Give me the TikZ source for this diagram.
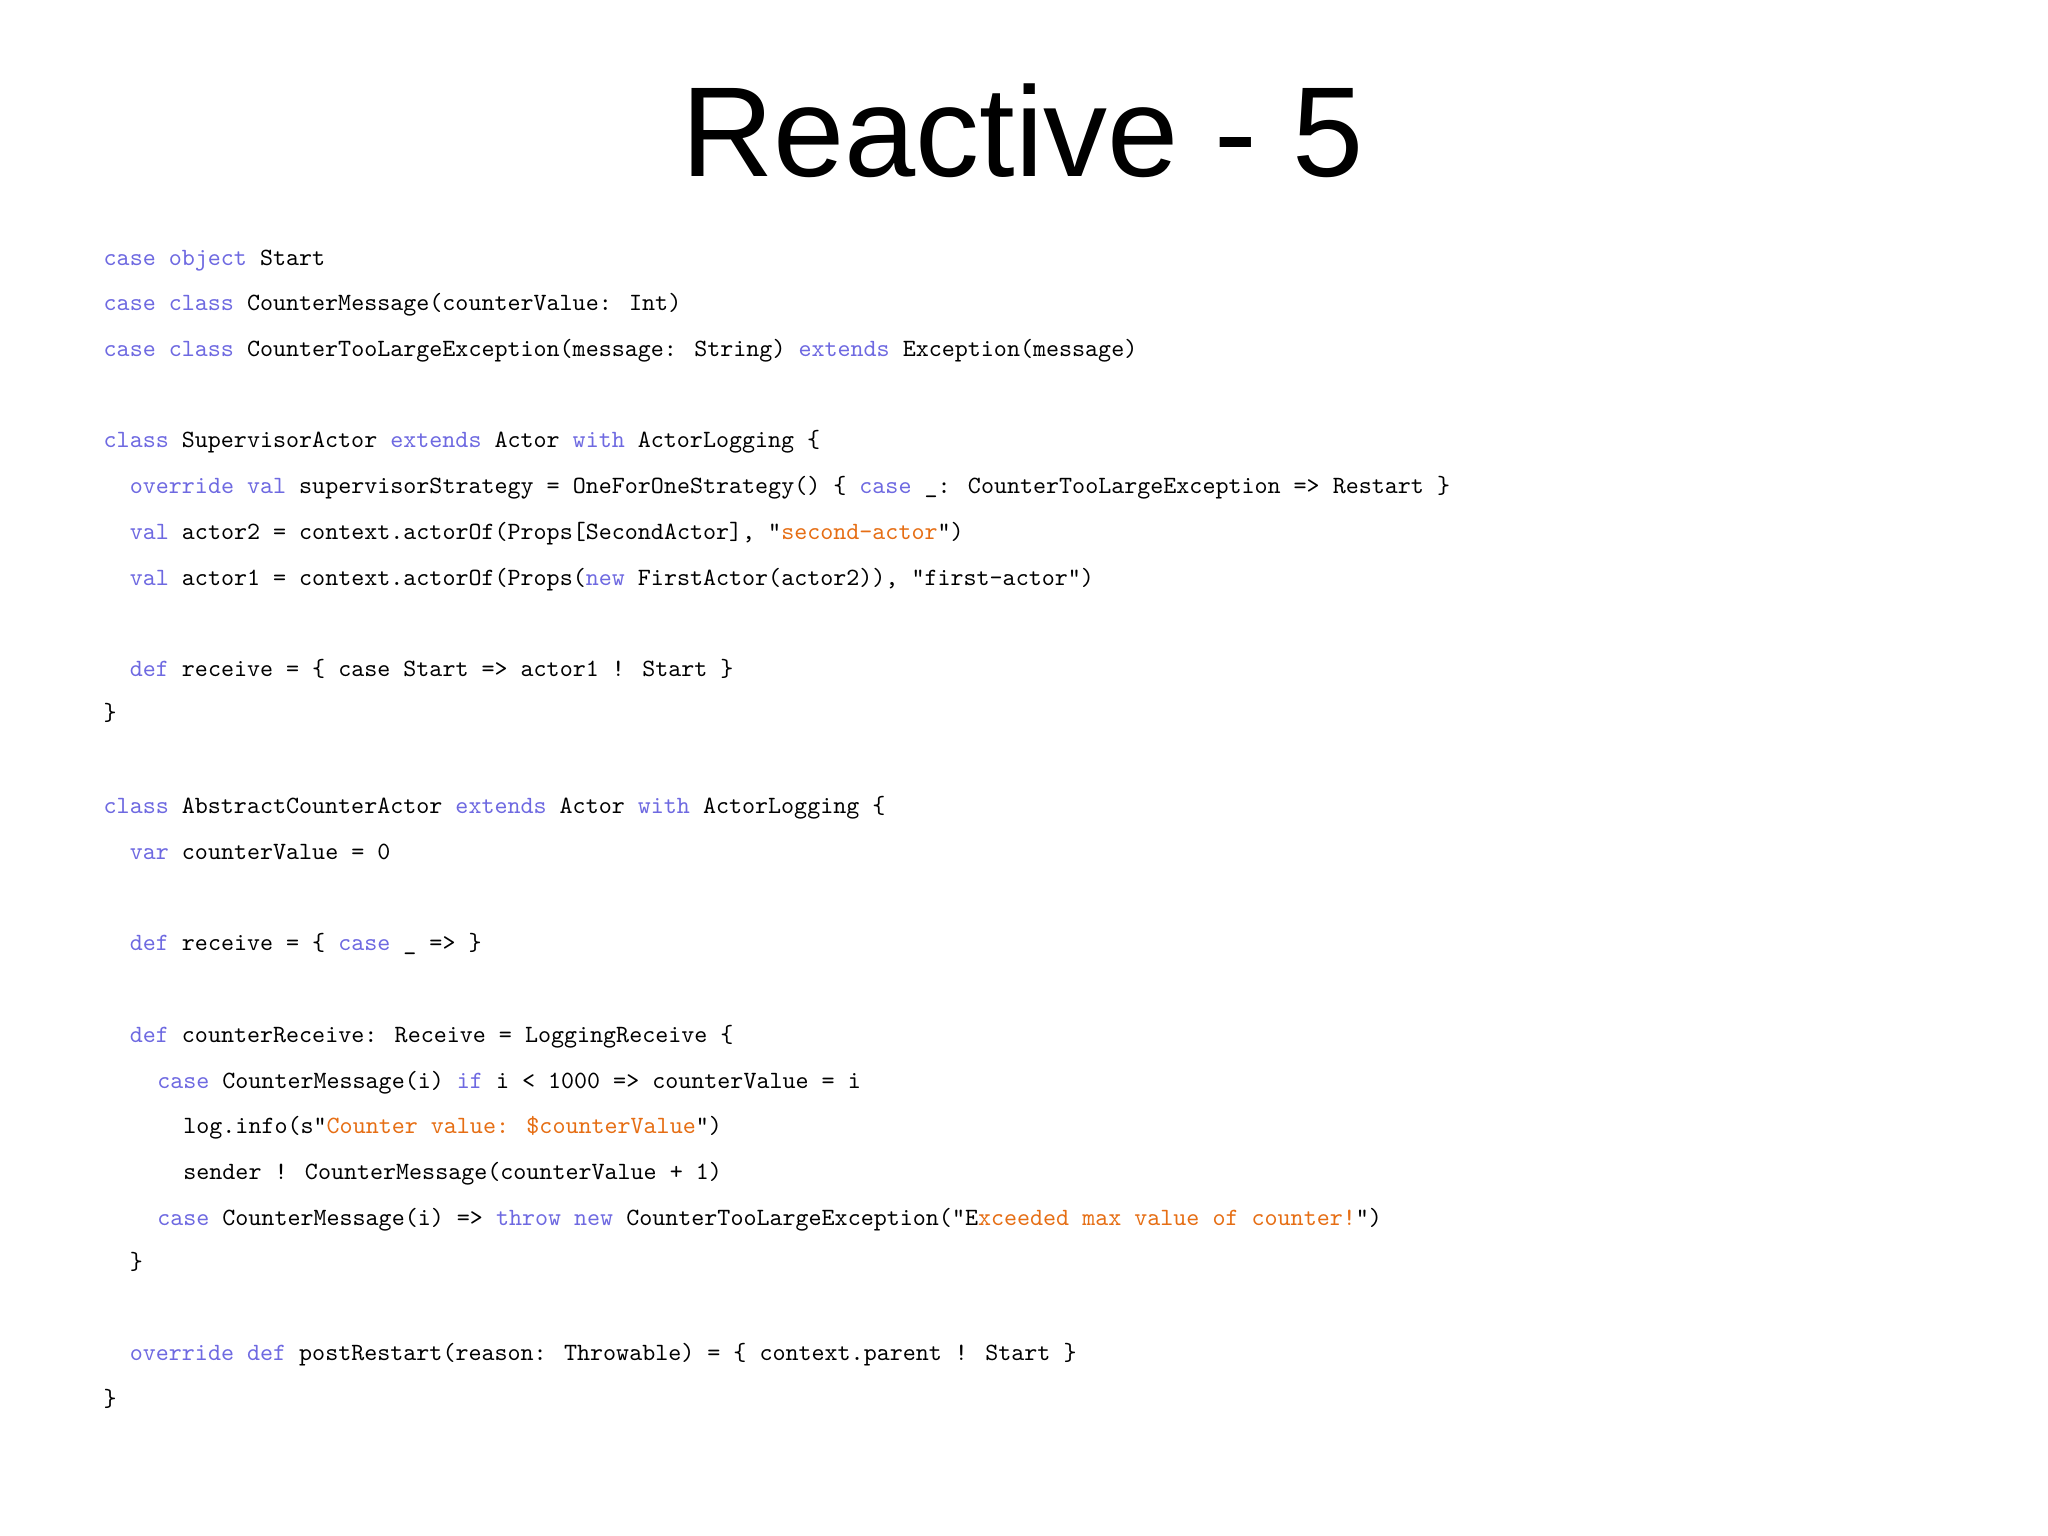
\documentclass[tikz,border=0pt]{standalone}
\usepackage{fontspec}
\newfontfamily\titlefont{Liberation Sans}
\definecolor{kwc}{RGB}{110,105,225}
\definecolor{stc}{RGB}{230,110,20}
\newcommand{\kw}[1]{\textcolor{kwc}{#1}}
\newcommand{\st}[1]{\textcolor{stc}{#1}}
\begin{document}
\begin{tikzpicture}[x=0.5pt,y=-0.5pt,
  codeline/.style={anchor=base west,inner sep=0pt,font=\fontsize{9.5pt}{10pt}\ttfamily}]
\useasboundingbox[fill=white] (0,0) rectangle (1568,1176);
\node[anchor=base,inner sep=0pt,font=\titlefont\fontsize{49pt}{50pt}\selectfont] (title) at (783,135) {Reactive - 5};
\def\L#1#2#3#4{\node[codeline] (#1) at (#2,#3+5) {#4};}
\L{l1}{79}{198}{\kw{case object} Start}
\L{l2}{79}{233}{\kw{case class} CounterMessage(counterValue: Int)}
\L{l3}{79}{268}{\kw{case class} CounterTooLargeException(message: String) \kw{extends} Exception(message)}
\L{l4}{79}{338}{\kw{class} SupervisorActor \kw{extends} Actor \kw{with} ActorLogging \{}
\L{l5}{99}{373}{\kw{override val} supervisorStrategy = OneForOneStrategy() \{ \kw{case} \_: CounterTooLargeException => Restart \}}
\L{l6}{99}{408}{\kw{val} actor2 = context.actorOf(Props[SecondActor], "\st{second-actor}")}
\L{l7}{99}{443}{\kw{val} actor1 = context.actorOf(Props(\kw{new} FirstActor(actor2)), "first-actor")}
\L{l8}{99}{513}{\kw{def} receive = \{ case Start => actor1 ! Start \}}
\L{l9}{79}{547}{\}}
\L{l10}{79}{618}{\kw{class} AbstractCounterActor \kw{extends} Actor \kw{with} ActorLogging \{}
\L{l11}{99}{653}{\kw{var} counterValue = 0}
\L{l12}{99}{723}{\kw{def} receive = \{ \kw{case} \_ => \}}
\L{l13}{99}{793}{\kw{def} counterReceive: Receive = LoggingReceive \{}
\L{l14}{120}{828}{\kw{case} CounterMessage(i) \kw{if} i < 1000 => counterValue = i}
\L{l15}{140}{863}{log.info(s"\st{Counter value: \$counterValue}")}
\L{l16}{140}{898}{sender ! CounterMessage(counterValue + 1)}
\L{l17}{120}{933}{\kw{case} CounterMessage(i) => \kw{throw new} CounterTooLargeException("E\st{xceeded max value of counter!}")}
\L{l18}{99}{967}{\}}
\L{l19}{99}{1037}{\kw{override def} postRestart(reason: Throwable) = \{ context.parent ! Start \}}
\L{l20}{79}{1072}{\}}
\end{tikzpicture}
\end{document}
